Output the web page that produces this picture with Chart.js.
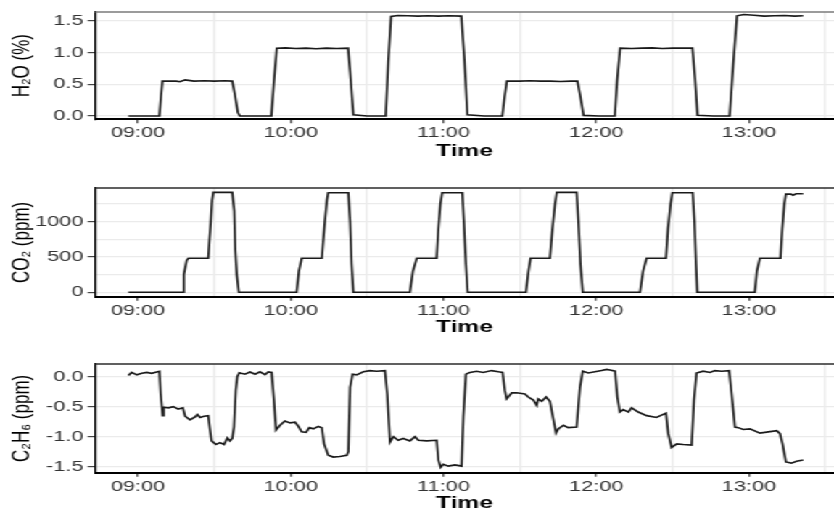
<!DOCTYPE html>
<html>
<head>
<meta charset="utf-8">
<script src="https://cdn.jsdelivr.net/npm/chart.js@4.4.1/dist/chart.umd.min.js"></script>
<style>
  html, body { margin: 0; padding: 0; background: #fff; overflow: hidden; }
  #wrap { position: absolute; left: 0; top: 0; width: 575px; height: 530px; transform: scaleX(1.4504); transform-origin: 0 0; }
  canvas { position: absolute; left: 0; }
</style>
</head>
<body>
<div id="wrap">
  <canvas id="h2o-canvas" width="575" height="170" style="top:0px"></canvas>
  <canvas id="co2-canvas" width="575" height="170" style="top:176px"></canvas>
  <canvas id="c2h6-canvas" width="575" height="170" style="top:352px"></canvas>
</div>
<script>
// times are minutes since midnight
let hourTicks = [540, 600, 660, 720, 780];
let halfHourGrid = [540, 570, 600, 630, 660, 690, 720, 750, 780, 810];

let h2oTime = [
  536.2, 542, 548.4, 549.0, 549.6,
  552, 555, 556.5, 558.5, 562, 566, 570, 574,
  577.0, 578.0, 579.2, 580.0, 586,
  592.4, 593.3, 594.5,
  598, 602, 606, 610, 614, 618,
  622.5, 623.3, 624.6, 630,
  637.3, 638.3, 639.4,
  642, 646, 650, 654, 658, 662,
  667.0, 668.2, 669.4, 676,
  683.1, 684.0, 684.9,
  690, 694, 698, 702, 706, 710,
  712.6, 713.8, 715.0, 721,
  727.3, 728.2, 729.4,
  734, 738, 742, 746, 750, 754,
  757.8, 758.8, 759.8, 766,
  772.4, 773.8, 775.3,
  778, 782, 786, 790, 794, 798, 801.3,
];
let h2oValue = [
  0, 0, 0, 0.3, 0.55,
  0.55, 0.55, 0.54, 0.57, 0.55, 0.555, 0.55, 0.555,
  0.55, 0.35, 0.06, 0, 0,
  0, 0.5, 1.07,
  1.075, 1.065, 1.07, 1.06, 1.07, 1.065,
  1.07, 0.7, 0.02, 0,
  0, 0.85, 1.57,
  1.585, 1.58, 1.575, 1.58, 1.575, 1.58,
  1.575, 0.9, 0.02, 0,
  0, 0.3, 0.55,
  0.55, 0.555, 0.55, 0.55, 0.545, 0.55,
  0.55, 0.3, 0.01, 0,
  0, 0.55, 1.07,
  1.065, 1.07, 1.075, 1.065, 1.07, 1.07,
  1.07, 0.6, 0.01, 0,
  0, 0.8, 1.58,
  1.6, 1.59, 1.575, 1.58, 1.585, 1.575, 1.58,
];
let h2oGrid = [0, 0.25, 0.5, 0.75, 1, 1.25, 1.5];
let h2oLabels = [0, 0.5, 1, 1.5];

let co2Time = [
  536.2, 557.6, 558.0, 559.1, 559.8, 567.6, 568.0, 568.6, 569.1, 569.6, 577.0, 577.8, 578.2, 578.8, 579.6,
  602.3, 603.2, 604.3, 612.2, 612.7, 613.4, 614.2, 614.7, 622.6, 623.3, 623.9, 624.6,
  646.8, 648.0, 649.5, 657.3, 658.0, 658.8, 659.5, 667.4, 668.0, 668.8, 669.5,
  692.4, 693.4, 694.2, 701.8, 702.8, 703.8, 704.5, 712.3, 713.0, 713.8, 714.7,
  737.2, 738.4, 739.8, 747.4, 748.2, 749.2, 749.9, 757.9, 758.6, 759.2, 759.7,
  782.3, 783.1, 784.3, 792.4, 793.1, 793.9, 794.5, 796.5, 797.3, 798.5, 801.3,
];
let co2Value = [
  0, 0, 250, 450, 480, 480, 700, 1000, 1300, 1410, 1410, 1150, 600, 250, 0,
  0, 300, 480, 480, 700, 1000, 1300, 1405, 1405, 1000, 400, 0,
  0, 300, 480, 480, 900, 1250, 1405, 1405, 1000, 400, 0,
  0, 300, 480, 480, 900, 1250, 1410, 1410, 1000, 400, 0,
  0, 300, 480, 480, 900, 1250, 1405, 1405, 1000, 400, 0,
  0, 300, 480, 480, 900, 1250, 1385, 1385, 1370, 1390, 1390,
];
let co2Grid = [0, 250, 500, 750, 1000, 1250];
let co2Labels = [0, 500, 1000];

let c2h6Time = [
  536.2, 537.5, 539.5, 541.5, 543.4, 545.4, 547.3, 548.4,
  548.9, 549.4, 549.7, 550.1, 551.9, 553.9, 555.8, 557.6,
  558.5, 560.4, 562.4, 563.3, 564.4, 565.9, 567.6, 568.3,
  568.9, 570.6, 572.2, 573.8, 575.1, 576.1, 577.0, 577.7,
  578.4, 579.0, 579.8, 582.0, 584.0, 586.0, 587.9, 589.9,
  591.2, 592.5, 593.4, 594.2, 595.8, 597.7, 599.7, 601.7,
  603.0, 604.3, 606.0, 607.3, 608.9, 610.8, 612.2, 613.1,
  614.7, 616.7, 619.3, 622.0, 622.6, 623.3, 624.3, 625.9,
  628.5, 631.1, 633.7, 637.0, 637.9, 639.0, 640.3, 642.2,
  644.2, 646.8, 648.8, 650.1, 653.4, 657.3, 658.0, 658.9,
  659.9, 661.9, 664.5, 667.1, 667.8, 668.8, 670.4, 673.0,
  675.6, 678.9, 681.6, 683.2, 684.1, 684.8, 686.8, 688.7,
  692.0, 693.3, 695.3, 696.6, 697.2, 698.6, 700.3, 701.8,
  703.1, 704.2, 705.1, 707.1, 709.0, 712.3, 713.6, 714.7,
  716.9, 719.5, 722.1, 724.1, 725.4, 727.4, 728.3, 729.3,
  730.6, 732.6, 733.9, 736.5, 739.8, 743.7, 746.3, 747.4,
  748.3, 749.6, 751.6, 754.2, 757.5, 758.4, 759.4, 762.0,
  764.7, 766.6, 769.3, 772.2, 773.2, 774.5, 775.8, 777.7,
  780.4, 784.3, 787.6, 790.9, 792.2, 793.2, 794.5, 796.7,
  798.7, 801.3,
];
let c2h6Value = [
  0.02, 0.07, 0.03, 0.055, 0.07, 0.055, 0.077, 0.088,
  -0.29, -0.51, -0.65, -0.51, -0.52, -0.50, -0.54, -0.52,
  -0.66, -0.72, -0.67, -0.63, -0.68, -0.66, -0.65, -0.89,
  -1.07, -1.13, -1.10, -1.13, -1.02, -1.07, -1.03, -0.84,
  -0.23, 0.0, 0.065, 0.04, 0.077, 0.04, 0.08, 0.033,
  0.077, 0.07, -0.4, -0.89, -0.81, -0.74, -0.77, -0.76,
  -0.83, -0.92, -0.93, -0.85, -0.87, -0.83, -0.85, -1.12,
  -1.31, -1.34, -1.33, -1.31, -1.25, -0.18, 0.04, 0.03,
  0.08, 0.1, 0.09, 0.1, -0.29, -1.09, -1.0, -1.06,
  -1.03, -1.07, -1.0, -1.06, -1.07, -1.06, -1.39, -1.51,
  -1.46, -1.49, -1.47, -1.49, -0.67, 0.04, 0.07, 0.09,
  0.07, 0.1, 0.08, 0.07, -0.23, -0.37, -0.27, -0.27,
  -0.29, -0.34, -0.39, -0.48, -0.37, -0.41, -0.34, -0.41,
  -0.70, -0.94, -0.87, -0.81, -0.85, -0.84, -0.18, 0.09,
  0.06, 0.08, 0.1, 0.12, 0.11, 0.09, -0.34, -0.59,
  -0.55, -0.59, -0.52, -0.59, -0.65, -0.68, -0.63, -0.61,
  -0.95, -1.18, -1.12, -1.13, -1.14, -0.4, 0.06, 0.09,
  0.07, 0.1, 0.09, 0.1, -0.29, -0.84, -0.85, -0.88,
  -0.87, -0.94, -0.92, -0.9, -0.95, -1.12, -1.42, -1.44,
  -1.41, -1.39,
];
let c2h6Grid = [-1.5, -1.25, -1, -0.75, -0.5, -0.25, 0];
let c2h6Labels = [-1.5, -1, -0.5, 0];

let fontFamily = "'Liberation Sans', Arial, sans-serif";
let clear = "rgba(0,0,0,0)";

function hhmm(v) {
  let h = Math.floor(v / 60);
  let m = v % 60;
  return String(h).padStart(2, "0") + ":" + String(m).padStart(2, "0");
}

// panel border on top (right edge is cut off in the original)
let topBorder = {
  id: "topBorder",
  afterDraw(chart, args, opts) {
    let ctx = chart.ctx;
    let a = chart.chartArea;
    ctx.save();
    ctx.strokeStyle = opts.color;
    ctx.lineWidth = 1.4;
    ctx.beginPath();
    ctx.moveTo(a.left, a.top);
    ctx.lineTo(a.right + 2, a.top);
    ctx.stroke();
    ctx.restore();
  },
};

function makePanel(id, times, values, p) {
  let points = times.map(function (t, i) {
    return { x: t, y: values[i] };
  });
  let plotBottom = p.padTop + p.plotH;

  return new Chart(document.getElementById(id), {
    type: "line",
    data: {
      datasets: [
        {
          data: points,
          borderColor: "#1a1a1a",
          borderWidth: 1.6,
          pointRadius: 0,
          tension: 0,
          fill: false,
        },
      ],
    },
    plugins: [topBorder],
    options: {
      responsive: false,
      animation: false,
      layout: { padding: { top: p.padTop, left: 0, right: 0, bottom: 0 } },
      plugins: {
        legend: { display: false },
        tooltip: { enabled: false },
        topBorder: { color: p.topColor },
      },
      scales: {
        x: {
          type: "linear",
          bounds: "data",
          min: 523.1,
          max: 813.4,
          afterBuildTicks: function (s) {
            s.ticks = halfHourGrid.map(function (v) { return { value: v }; });
          },
          afterFit: function (s) {
            s.height = 170 - plotBottom;
          },
          ticks: {
            autoSkip: false,
            maxRotation: 0,
            padding: 1,
            color: "#333333",
            font: { family: fontFamily, size: 15 },
            callback: function (v) {
              return hourTicks.includes(v) ? hhmm(v) : "";
            },
          },
          grid: {
            lineWidth: 1.4,
            tickLength: 4,
            tickWidth: 1.2,
            color: function (c) {
              return hourTicks.includes(c.tick.value) ? clear : "#ebebeb";
            },
            tickColor: function (c) {
              return hourTicks.includes(c.tick.value) ? "#444444" : clear;
            },
          },
          border: { color: "#000000", width: 2 },
          title: {
            display: true,
            text: "Time",
            color: "#000000",
            font: { family: fontFamily, size: 17, weight: "bold" },
            padding: { top: 0, bottom: 8.8 },
          },
        },
        y: {
          bounds: "data",
          min: p.yMin,
          max: p.yMax,
          afterBuildTicks: function (s) {
            s.ticks = p.grid.map(function (v) { return { value: v }; });
          },
          afterFit: function (s) {
            s.width = 65.5;
          },
          ticks: {
            padding: 3,
            color: "#333333",
            font: { family: fontFamily, size: 15 },
            callback: function (v) {
              return p.labels.includes(v) ? p.fmt(v) : "";
            },
          },
          grid: {
            lineWidth: 1.2,
            color: "#ebebeb",
            tickLength: 5,
            tickWidth: 1.2,
            tickColor: function (c) {
              return p.labels.includes(c.tick.value) ? "#444444" : clear;
            },
          },
          border: { color: "#000000", width: 1.4 },
          title: {
            display: true,
            text: p.title,
            color: "#000000",
            font: { family: fontFamily, size: 17 },
            padding: { top: 5.3, bottom: 0 },
          },
        },
      },
    },
  });
}

makePanel("h2o-canvas", h2oTime, h2oValue, {
  yMin: -0.052, yMax: 1.64, grid: h2oGrid, labels: h2oLabels,
  fmt: function (v) { return v.toFixed(1); },
  title: "H\u2082O (%)", padTop: 11, plotH: 108.3, topColor: "#7a7a7a",
});

makePanel("co2-canvas", co2Time, co2Value, {
  yMin: -62, yMax: 1472, grid: co2Grid, labels: co2Labels,
  fmt: function (v) { return String(v); },
  title: "CO\u2082 (ppm)", padTop: 11.3, plotH: 109.4, topColor: "#2b2b2b",
});

makePanel("c2h6-canvas", c2h6Time, c2h6Value, {
  yMin: -1.6, yMax: 0.21, grid: c2h6Grid, labels: c2h6Labels,
  fmt: function (v) { return v.toFixed(1); },
  title: "C\u2082H\u2086 (ppm)", padTop: 11.3, plotH: 109.4, topColor: "#2b2b2b",
});
</script>
</body>
</html>
